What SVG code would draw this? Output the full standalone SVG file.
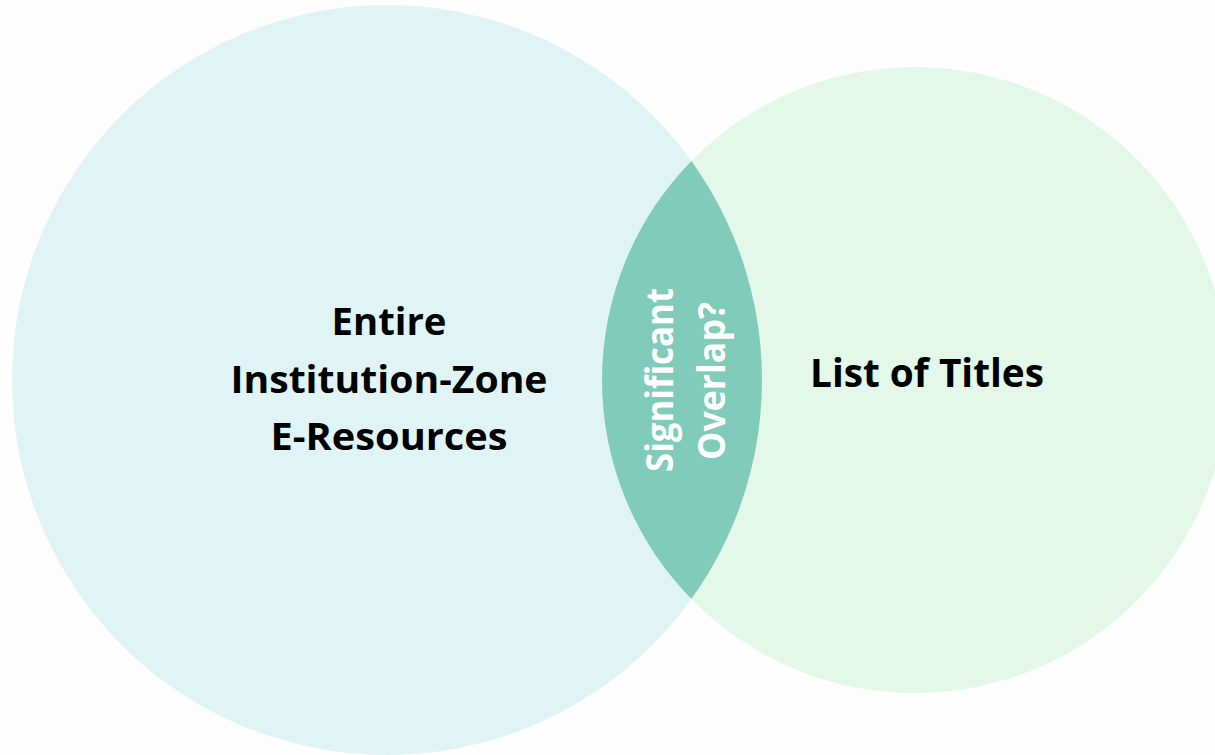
<svg xmlns="http://www.w3.org/2000/svg" width="1215" height="755" viewBox="0 0 1215 755">
<style>
.lbl{font-family:"Open Sans","Noto Sans",sans-serif;font-weight:bold;text-anchor:middle;fill:#000}
.lens{font-family:"Open Sans","Noto Sans",sans-serif;font-weight:bold;text-anchor:middle;fill:#fff}
</style>
<defs>
<clipPath id="clipL"><circle cx="387" cy="380" r="375"/></clipPath>
</defs>
<rect width="1215" height="755" fill="#fdfdfd"/>
<g id="left-set">
<circle cx="387" cy="380" r="375" fill="#e0f4f5"/>
<text class="lbl" font-size="38" x="389" y="335" textLength="115" lengthAdjust="spacingAndGlyphs">Entire</text>
<text class="lbl" font-size="38" x="389" y="393" textLength="317" lengthAdjust="spacingAndGlyphs">Institution-Zone</text>
<text class="lbl" font-size="38" x="389" y="450" textLength="237" lengthAdjust="spacingAndGlyphs">E-Resources</text>
</g>
<g id="right-set">
<circle cx="915" cy="380" r="313" fill="#e3f8e8"/>
<text class="lbl" font-size="40" x="927" y="387" textLength="234" lengthAdjust="spacingAndGlyphs">List of Titles</text>
</g>
<g id="overlap">
<circle cx="915" cy="380" r="313" fill="#80cbb9" clip-path="url(#clipL)"/>
<text class="lens" font-size="38" transform="translate(673,380) rotate(-90)" textLength="184" lengthAdjust="spacingAndGlyphs">Significant</text>
<text class="lens" font-size="38" transform="translate(725,381) rotate(-90)" textLength="158" lengthAdjust="spacingAndGlyphs">Overlap?</text>
</g>
<g id="connectors"></g>
</svg>
